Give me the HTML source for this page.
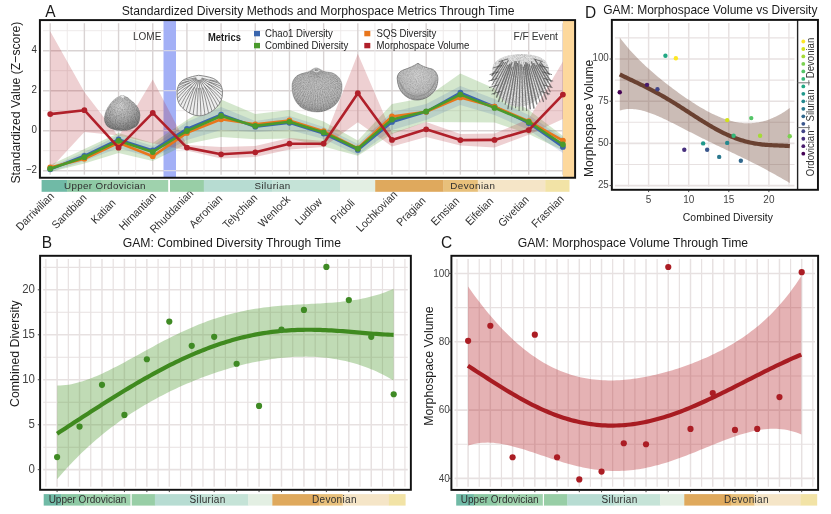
<!DOCTYPE html><html><head><meta charset="utf-8"><style>html,body{margin:0;padding:0;background:#fff;}svg{display:block;}text{font-family:'Liberation Sans', Arial, sans-serif;}</style></head><body>
<svg width="831" height="514" viewBox="0 0 831 514">
<rect width="831" height="514" fill="#fff"/>
<clipPath id="clipA"><rect x="39.9" y="20.1" width="535.2" height="157.65"/></clipPath>
<line x1="43.0" x2="572.0" y1="170.70" y2="170.70" stroke="#d9d3d3" stroke-width="1.4"/>
<line x1="43.0" x2="572.0" y1="150.70" y2="150.70" stroke="#ece8e8" stroke-width="0.9"/>
<line x1="43.0" x2="572.0" y1="130.70" y2="130.70" stroke="#d9d3d3" stroke-width="1.4"/>
<line x1="43.0" x2="572.0" y1="110.70" y2="110.70" stroke="#ece8e8" stroke-width="0.9"/>
<line x1="43.0" x2="572.0" y1="90.70" y2="90.70" stroke="#d9d3d3" stroke-width="1.4"/>
<line x1="43.0" x2="572.0" y1="70.70" y2="70.70" stroke="#ece8e8" stroke-width="0.9"/>
<line x1="43.0" x2="572.0" y1="50.70" y2="50.70" stroke="#d9d3d3" stroke-width="1.4"/>
<line x1="43.0" x2="572.0" y1="30.70" y2="30.70" stroke="#ece8e8" stroke-width="0.9"/>
<line x1="50.20" x2="50.20" y1="23.200000000000003" y2="174.65" stroke="#d9d3d3" stroke-width="1.4"/>
<line x1="67.29" x2="67.29" y1="23.200000000000003" y2="174.65" stroke="#ece8e8" stroke-width="0.9"/>
<line x1="84.38" x2="84.38" y1="23.200000000000003" y2="174.65" stroke="#d9d3d3" stroke-width="1.4"/>
<line x1="101.47" x2="101.47" y1="23.200000000000003" y2="174.65" stroke="#ece8e8" stroke-width="0.9"/>
<line x1="118.56" x2="118.56" y1="23.200000000000003" y2="174.65" stroke="#d9d3d3" stroke-width="1.4"/>
<line x1="135.65" x2="135.65" y1="23.200000000000003" y2="174.65" stroke="#ece8e8" stroke-width="0.9"/>
<line x1="152.74" x2="152.74" y1="23.200000000000003" y2="174.65" stroke="#d9d3d3" stroke-width="1.4"/>
<line x1="169.83" x2="169.83" y1="23.200000000000003" y2="174.65" stroke="#ece8e8" stroke-width="0.9"/>
<line x1="186.92" x2="186.92" y1="23.200000000000003" y2="174.65" stroke="#d9d3d3" stroke-width="1.4"/>
<line x1="204.01" x2="204.01" y1="23.200000000000003" y2="174.65" stroke="#ece8e8" stroke-width="0.9"/>
<line x1="221.10" x2="221.10" y1="23.200000000000003" y2="174.65" stroke="#d9d3d3" stroke-width="1.4"/>
<line x1="238.19" x2="238.19" y1="23.200000000000003" y2="174.65" stroke="#ece8e8" stroke-width="0.9"/>
<line x1="255.28" x2="255.28" y1="23.200000000000003" y2="174.65" stroke="#d9d3d3" stroke-width="1.4"/>
<line x1="272.37" x2="272.37" y1="23.200000000000003" y2="174.65" stroke="#ece8e8" stroke-width="0.9"/>
<line x1="289.46" x2="289.46" y1="23.200000000000003" y2="174.65" stroke="#d9d3d3" stroke-width="1.4"/>
<line x1="306.55" x2="306.55" y1="23.200000000000003" y2="174.65" stroke="#ece8e8" stroke-width="0.9"/>
<line x1="323.64" x2="323.64" y1="23.200000000000003" y2="174.65" stroke="#d9d3d3" stroke-width="1.4"/>
<line x1="340.73" x2="340.73" y1="23.200000000000003" y2="174.65" stroke="#ece8e8" stroke-width="0.9"/>
<line x1="357.82" x2="357.82" y1="23.200000000000003" y2="174.65" stroke="#d9d3d3" stroke-width="1.4"/>
<line x1="374.91" x2="374.91" y1="23.200000000000003" y2="174.65" stroke="#ece8e8" stroke-width="0.9"/>
<line x1="392.00" x2="392.00" y1="23.200000000000003" y2="174.65" stroke="#d9d3d3" stroke-width="1.4"/>
<line x1="409.09" x2="409.09" y1="23.200000000000003" y2="174.65" stroke="#ece8e8" stroke-width="0.9"/>
<line x1="426.18" x2="426.18" y1="23.200000000000003" y2="174.65" stroke="#d9d3d3" stroke-width="1.4"/>
<line x1="443.27" x2="443.27" y1="23.200000000000003" y2="174.65" stroke="#ece8e8" stroke-width="0.9"/>
<line x1="460.36" x2="460.36" y1="23.200000000000003" y2="174.65" stroke="#d9d3d3" stroke-width="1.4"/>
<line x1="477.45" x2="477.45" y1="23.200000000000003" y2="174.65" stroke="#ece8e8" stroke-width="0.9"/>
<line x1="494.54" x2="494.54" y1="23.200000000000003" y2="174.65" stroke="#d9d3d3" stroke-width="1.4"/>
<line x1="511.63" x2="511.63" y1="23.200000000000003" y2="174.65" stroke="#ece8e8" stroke-width="0.9"/>
<line x1="528.72" x2="528.72" y1="23.200000000000003" y2="174.65" stroke="#d9d3d3" stroke-width="1.4"/>
<line x1="545.81" x2="545.81" y1="23.200000000000003" y2="174.65" stroke="#ece8e8" stroke-width="0.9"/>
<line x1="562.90" x2="562.90" y1="23.200000000000003" y2="174.65" stroke="#d9d3d3" stroke-width="1.4"/>
<g clip-path="url(#clipA)">
<rect x="163.5" y="20.1" width="12.5" height="157.65" fill="#a3b0f6"/>
<line x1="163.5" x2="176" y1="170.70" y2="170.70" stroke="#d6d6e6" stroke-width="1.2"/>
<line x1="163.5" x2="176" y1="130.70" y2="130.70" stroke="#d6d6e6" stroke-width="1.2"/>
<line x1="163.5" x2="176" y1="90.70" y2="90.70" stroke="#d6d6e6" stroke-width="1.2"/>
<line x1="163.5" x2="176" y1="50.70" y2="50.70" stroke="#d6d6e6" stroke-width="1.2"/>
<rect x="562.9" y="20.1" width="13" height="157.65" fill="#fdd89c"/>
<polygon points="50.20,165.00 84.38,149.00 118.56,132.90 152.74,143.00 186.92,119.90 221.10,99.40 255.28,114.00 289.46,110.00 323.64,121.50 357.82,140.50 392.00,104.00 426.18,97.40 460.36,73.50 494.54,88.50 528.72,110.00 562.90,136.00 562.90,150.50 528.72,134.00 494.54,122.50 460.36,122.30 426.18,121.90 392.00,134.00 357.82,155.70 323.64,146.50 289.46,138.50 255.28,139.30 221.10,137.00 186.92,144.00 152.74,161.00 118.56,153.00 84.38,163.50 50.20,172.00" fill="#4a9a2c" fill-opacity="0.24"/>
<polygon points="50.20,167.00 84.38,152.00 118.56,135.00 152.74,146.00 186.92,122.00 221.10,107.00 255.28,121.00 289.46,116.00 323.64,127.00 357.82,144.00 392.00,112.00 426.18,104.00 460.36,86.00 494.54,99.00 528.72,115.00 562.90,138.00 562.90,153.00 528.72,130.00 494.54,115.00 460.36,105.00 426.18,120.00 392.00,130.00 357.82,155.00 323.64,139.00 289.46,130.00 255.28,132.00 221.10,130.00 186.92,140.00 152.74,158.00 118.56,148.00 84.38,161.00 50.20,172.00" fill="#3a65ad" fill-opacity="0.17"/>
<polygon points="50.20,31.20 84.38,92.00 118.56,136.50 152.74,79.50 186.92,145.00 221.10,147.00 255.28,146.00 289.46,138.00 323.64,141.00 357.82,53.80 392.00,133.00 426.18,122.00 460.36,134.00 494.54,133.60 528.72,119.00 562.90,61.50 562.90,119.00 528.72,134.70 494.54,147.60 460.36,145.50 426.18,137.00 392.00,146.50 357.82,122.20 323.64,147.00 289.46,149.50 255.28,157.00 221.10,158.50 186.92,150.50 152.74,143.20 118.56,135.50 84.38,132.00 50.20,169.00" fill="#b0202a" fill-opacity="0.21"/>
</g>
<defs>
<radialGradient id="g1" cx="0.45" cy="0.3" r="0.8"><stop offset="0" stop-color="#d2d2d2"/><stop offset="0.5" stop-color="#a8a8a8"/><stop offset="1" stop-color="#6a6a6a"/></radialGradient>
<radialGradient id="g3" cx="0.5" cy="0.3" r="0.75"><stop offset="0" stop-color="#d4d4d4"/><stop offset="0.7" stop-color="#b6b6b6"/><stop offset="1" stop-color="#8e8e8e"/></radialGradient>
<radialGradient id="g4" cx="0.5" cy="0.35" r="0.7"><stop offset="0" stop-color="#d0d0d0"/><stop offset="0.75" stop-color="#b8b8b8"/><stop offset="1" stop-color="#858585"/></radialGradient>
<radialGradient id="g5" cx="0.5" cy="0.4" r="0.6"><stop offset="0" stop-color="#e4e4e4"/><stop offset="1" stop-color="#b8b8b8"/></radialGradient>
<filter id="nz" x="0" y="0" width="1" height="1" color-interpolation-filters="sRGB"><feTurbulence type="fractalNoise" baseFrequency="0.85" numOctaves="2" seed="4"/><feColorMatrix type="matrix" values="0 0 0 0 0  0 0 0 0 0  0 0 0 0 0  1.6 0 0 0 -0.55"/></filter>
</defs>
<clipPath id="cf1"><path d="M122.4,95.3 C126,95.5 130,99 133.9,102.5 C138,106.5 140.4,110.5 140.3,115 C140.2,120 139,123.5 136.8,126 C132,130 127,131 122.2,130.8 C117,131 111,129.5 107.6,126.8 C104.8,124 104,121 104.2,118 C104.5,113 106.5,108 109.6,104.5 C113,100 118,95.5 122.4,95.3 Z"/></clipPath>
<path d="M122.4,95.3 C126,95.5 130,99 133.9,102.5 C138,106.5 140.4,110.5 140.3,115 C140.2,120 139,123.5 136.8,126 C132,130 127,131 122.2,130.8 C117,131 111,129.5 107.6,126.8 C104.8,124 104,121 104.2,118 C104.5,113 106.5,108 109.6,104.5 C113,100 118,95.5 122.4,95.3 Z" fill="url(#g1)"/>
<rect x="100" y="92" width="45" height="42" filter="url(#nz)" clip-path="url(#cf1)" opacity="0.28"/>
<path d="M120.5,96.5 L122.4,95.3 L124.5,96.6 L123,98.5 Z" fill="#e8e8e8"/>
<clipPath id="cf2"><path d="M198.6,75.3 C203,75.8 209,76.8 213.2,78.4 C219,81 222.5,86 222.5,92.4 C222.5,99 220.5,103.5 216.7,107.2 C212,112 205.5,115.8 199.2,115.8 C193,115.8 186.5,112 181.7,107.2 C178,103.5 177,98.5 177,93 C177,86.5 180,81 185.2,79 C190,77 195,75.8 198.6,75.3 Z"/></clipPath>
<path d="M198.6,75.3 C203,75.8 209,76.8 213.2,78.4 C219,81 222.5,86 222.5,92.4 C222.5,99 220.5,103.5 216.7,107.2 C212,112 205.5,115.8 199.2,115.8 C193,115.8 186.5,112 181.7,107.2 C178,103.5 177,98.5 177,93 C177,86.5 180,81 185.2,79 C190,77 195,75.8 198.6,75.3 Z" fill="#eeeeee"/>
<g clip-path="url(#cf2)" fill="none" stroke="#404040" stroke-width="0.7" opacity="0.8">
<path d="M196.10,77.78 Q170.02,82.71 152.64,89.42"/>
<path d="M188.70,80.86 Q170.91,84.75 154.06,93.85"/>
<path d="M196.31,78.32 Q172.06,86.72 155.90,98.13"/>
<path d="M189.64,82.77 Q173.47,88.59 158.15,102.20"/>
<path d="M196.61,78.81 Q175.11,90.36 160.78,106.04"/>
<path d="M190.93,84.47 Q176.98,92.00 163.77,109.60"/>
<path d="M197.01,79.24 Q179.06,93.49 167.09,112.86"/>
<path d="M192.52,85.89 Q181.32,94.84 170.71,115.78"/>
<path d="M197.47,79.58 Q183.75,96.01 174.60,118.33"/>
<path d="M194.35,86.97 Q186.32,97.01 178.71,120.50"/>
<path d="M198.00,79.83 Q189.01,97.82 183.02,122.26"/>
<path d="M196.36,87.68 Q191.80,98.43 187.48,123.60"/>
<path d="M198.57,79.97 Q194.65,98.85 192.04,124.49"/>
<path d="M198.47,87.99 Q197.55,99.05 196.67,124.94"/>
<path d="M199.15,80.00 Q200.45,99.05 201.33,124.94"/>
<path d="M200.59,87.88 Q203.35,98.85 205.96,124.49"/>
<path d="M199.72,79.91 Q206.20,98.43 210.52,123.60"/>
<path d="M202.66,87.37 Q208.99,97.82 214.98,122.26"/>
<path d="M200.27,79.72 Q211.68,97.01 219.29,120.50"/>
<path d="M204.59,86.47 Q214.25,96.01 223.40,118.33"/>
<path d="M200.77,79.42 Q216.68,94.84 227.29,115.78"/>
<path d="M206.31,85.22 Q218.94,93.49 230.91,112.86"/>
<path d="M201.20,79.04 Q221.02,92.00 234.23,109.60"/>
<path d="M207.76,83.65 Q222.89,90.36 237.22,106.04"/>
<path d="M201.55,78.57 Q224.53,88.59 239.85,102.20"/>
<path d="M208.88,81.84 Q225.94,86.72 242.10,98.13"/>
<path d="M201.81,78.05 Q227.09,84.75 243.94,93.85"/>
<path d="M209.63,79.85 Q227.98,82.71 245.36,89.42"/>
</g>
<path d="M198.6,75.3 C203,75.8 209,76.8 213.2,78.4 C219,81 222.5,86 222.5,92.4 C222.5,99 220.5,103.5 216.7,107.2 C212,112 205.5,115.8 199.2,115.8 C193,115.8 186.5,112 181.7,107.2 C178,103.5 177,98.5 177,93 C177,86.5 180,81 185.2,79 C190,77 195,75.8 198.6,75.3 Z" fill="none" stroke="#7a7a7a" stroke-width="0.9"/>
<clipPath id="cf3"><path d="M316.1,67.9 C319,68 321.5,70.5 324,71.5 C327,72.3 329.5,72.2 331.8,72.7 C338,75 342,80 342,86.3 C342,95 339,101.5 334.5,105.4 C329,110 323,111.9 316.8,111.9 C310.5,111.9 304.5,110 300.4,106.7 C295,102 292,95 292,86.3 C292,80 296,75.5 300.4,74.1 C303,73 306,72.8 308.5,71.8 C311,70.8 313.5,68 316.1,67.9 Z"/></clipPath>
<path d="M316.1,67.9 C319,68 321.5,70.5 324,71.5 C327,72.3 329.5,72.2 331.8,72.7 C338,75 342,80 342,86.3 C342,95 339,101.5 334.5,105.4 C329,110 323,111.9 316.8,111.9 C310.5,111.9 304.5,110 300.4,106.7 C295,102 292,95 292,86.3 C292,80 296,75.5 300.4,74.1 C303,73 306,72.8 308.5,71.8 C311,70.8 313.5,68 316.1,67.9 Z" fill="url(#g3)" stroke="#7c7c7c" stroke-width="0.5"/>
<g clip-path="url(#cf3)" stroke="#505050" stroke-width="0.5" opacity="0.35">
<line x1="316.5" y1="70" x2="267.59" y2="80.40"/>
<line x1="316.5" y1="70" x2="268.55" y2="84.16"/>
<line x1="316.5" y1="70" x2="269.79" y2="87.85"/>
<line x1="316.5" y1="70" x2="271.32" y2="91.42"/>
<line x1="316.5" y1="70" x2="273.12" y2="94.87"/>
<line x1="316.5" y1="70" x2="275.19" y2="98.17"/>
<line x1="316.5" y1="70" x2="277.50" y2="101.29"/>
<line x1="316.5" y1="70" x2="280.05" y2="104.23"/>
<line x1="316.5" y1="70" x2="282.82" y2="106.96"/>
<line x1="316.5" y1="70" x2="285.80" y2="109.46"/>
<line x1="316.5" y1="70" x2="288.96" y2="111.73"/>
<line x1="316.5" y1="70" x2="292.28" y2="113.74"/>
<line x1="316.5" y1="70" x2="295.75" y2="115.49"/>
<line x1="316.5" y1="70" x2="299.35" y2="116.97"/>
<line x1="316.5" y1="70" x2="303.05" y2="118.16"/>
<line x1="316.5" y1="70" x2="306.84" y2="119.06"/>
<line x1="316.5" y1="70" x2="310.68" y2="119.66"/>
<line x1="316.5" y1="70" x2="314.56" y2="119.96"/>
<line x1="316.5" y1="70" x2="318.44" y2="119.96"/>
<line x1="316.5" y1="70" x2="322.32" y2="119.66"/>
<line x1="316.5" y1="70" x2="326.16" y2="119.06"/>
<line x1="316.5" y1="70" x2="329.95" y2="118.16"/>
<line x1="316.5" y1="70" x2="333.65" y2="116.97"/>
<line x1="316.5" y1="70" x2="337.25" y2="115.49"/>
<line x1="316.5" y1="70" x2="340.72" y2="113.74"/>
<line x1="316.5" y1="70" x2="344.04" y2="111.73"/>
<line x1="316.5" y1="70" x2="347.20" y2="109.46"/>
<line x1="316.5" y1="70" x2="350.18" y2="106.96"/>
<line x1="316.5" y1="70" x2="352.95" y2="104.23"/>
<line x1="316.5" y1="70" x2="355.50" y2="101.29"/>
<line x1="316.5" y1="70" x2="357.81" y2="98.17"/>
<line x1="316.5" y1="70" x2="359.88" y2="94.87"/>
<line x1="316.5" y1="70" x2="361.68" y2="91.42"/>
<line x1="316.5" y1="70" x2="363.21" y2="87.85"/>
<line x1="316.5" y1="70" x2="364.45" y2="84.16"/>
<line x1="316.5" y1="70" x2="365.41" y2="80.40"/>
</g>
<rect x="288" y="64" width="58" height="52" filter="url(#nz)" clip-path="url(#cf3)" opacity="0.24"/>
<path d="M313.5,70 C315,72.5 318,72.5 319.5,70" fill="none" stroke="#ddd" stroke-width="1.2"/>
<clipPath id="cf4"><path d="M418,63.2 C421,65.5 425,67.5 432,69 C436,71 438,75 437.9,79.5 C437.7,85 436,89.5 433.2,92.4 C429,97 423,100 416.8,100 C411,100 406,97 402.8,93.5 C399.5,90 397.5,85 397.2,78.3 C397.2,74.5 399.5,71.5 402.8,70.2 C409,68 414,66 418,63.2 Z"/></clipPath>
<path d="M418,63.2 C421,65.5 425,67.5 432,69 C436,71 438,75 437.9,79.5 C437.7,85 436,89.5 433.2,92.4 C429,97 423,100 416.8,100 C411,100 406,97 402.8,93.5 C399.5,90 397.5,85 397.2,78.3 C397.2,74.5 399.5,71.5 402.8,70.2 C409,68 414,66 418,63.2 Z" fill="url(#g4)" stroke="#777" stroke-width="0.8"/>
<rect x="394" y="60" width="48" height="44" filter="url(#nz)" clip-path="url(#cf4)" opacity="0.2"/>
<path d="M399,80 C401,90 408,96.5 417,97 C426,96.5 433,90 436,80" fill="none" stroke="#909090" stroke-width="0.7"/>
<path d="M398.5,76.5 C400,87 408,94 417,94.5 C426,94 434,87 436.5,76.5" fill="none" stroke="#a0a0a0" stroke-width="0.6"/>
<path d="M400.5,83 C403,91 409,95.5 417,96 C425,95.5 431.5,91 434.5,83" fill="none" stroke="#8a8a8a" stroke-width="0.8"/>
<path d="M402,76 C405,72 412,70 418,66.5 C424,70 431,72 434,76" fill="none" stroke="#b0b0b0" stroke-width="0.6"/>
<clipPath id="cf5"><path d="M521.6,54 C532,54 541,56.5 545.5,61 C549.5,66 550,74 548.5,81 C546,90 540,98 532,103 C526,106.5 519,107.5 513,106 C505,103.5 498,96 494.5,87.5 C491.5,80 491,71 493.5,64.5 C498,57.5 509,54 521.6,54 Z"/></clipPath>
<path d="M521.6,54 C532,54 541,56.5 545.5,61 C549.5,66 550,74 548.5,81 C546,90 540,98 532,103 C526,106.5 519,107.5 513,106 C505,103.5 498,96 494.5,87.5 C491.5,80 491,71 493.5,64.5 C498,57.5 509,54 521.6,54 Z" fill="#e2e2e2"/>
<rect x="488" y="50" width="66" height="62" filter="url(#nz)" clip-path="url(#cf5)" opacity="0.25"/>
<g fill="none" stroke-linecap="round">
<line x1="502.38" y1="61.28" x2="491.92" y2="75.49" stroke="#333" stroke-width="1.39" opacity="0.6"/>
<line x1="503.67" y1="62.22" x2="491.62" y2="80.46" stroke="#333" stroke-width="1.22" opacity="0.6"/>
<line x1="505.49" y1="62.28" x2="492.04" y2="85.07" stroke="#333" stroke-width="1.02" opacity="0.6"/>
<line x1="508.32" y1="60.22" x2="492.36" y2="90.69" stroke="#333" stroke-width="1.05" opacity="0.6"/>
<line x1="507.56" y1="65.19" x2="494.04" y2="94.54" stroke="#333" stroke-width="1.07" opacity="0.6"/>
<line x1="509.64" y1="64.38" x2="496.60" y2="96.94" stroke="#333" stroke-width="1.57" opacity="0.6"/>
<line x1="511.75" y1="63.01" x2="498.62" y2="101.33" stroke="#333" stroke-width="1.59" opacity="0.6"/>
<line x1="512.06" y1="67.17" x2="502.14" y2="101.79" stroke="#333" stroke-width="1.17" opacity="0.6"/>
<line x1="515.11" y1="61.31" x2="505.13" y2="104.26" stroke="#333" stroke-width="1.19" opacity="0.6"/>
<line x1="516.35" y1="61.87" x2="507.96" y2="108.60" stroke="#333" stroke-width="1.35" opacity="0.6"/>
<line x1="517.46" y1="63.75" x2="511.66" y2="109.21" stroke="#333" stroke-width="1.33" opacity="0.6"/>
<line x1="519.09" y1="61.04" x2="515.52" y2="107.79" stroke="#333" stroke-width="1.12" opacity="0.6"/>
<line x1="520.27" y1="64.58" x2="519.11" y2="110.45" stroke="#333" stroke-width="1.19" opacity="0.6"/>
<line x1="521.73" y1="64.82" x2="522.88" y2="110.07" stroke="#333" stroke-width="1.18" opacity="0.6"/>
<line x1="523.37" y1="67.00" x2="526.68" y2="110.46" stroke="#333" stroke-width="1.15" opacity="0.6"/>
<line x1="524.72" y1="65.12" x2="530.28" y2="108.71" stroke="#333" stroke-width="1.53" opacity="0.6"/>
<line x1="525.81" y1="62.79" x2="533.93" y2="108.02" stroke="#333" stroke-width="1.59" opacity="0.6"/>
<line x1="527.48" y1="63.87" x2="536.79" y2="103.91" stroke="#333" stroke-width="1.45" opacity="0.6"/>
<line x1="529.04" y1="64.05" x2="539.91" y2="101.95" stroke="#333" stroke-width="1.02" opacity="0.6"/>
<line x1="531.28" y1="66.01" x2="543.42" y2="101.44" stroke="#333" stroke-width="1.34" opacity="0.6"/>
<line x1="531.44" y1="62.08" x2="546.27" y2="99.13" stroke="#333" stroke-width="1.42" opacity="0.6"/>
<line x1="533.72" y1="63.63" x2="548.03" y2="94.70" stroke="#333" stroke-width="1.27" opacity="0.6"/>
<line x1="536.28" y1="65.18" x2="550.16" y2="91.69" stroke="#333" stroke-width="1.28" opacity="0.6"/>
<line x1="535.28" y1="60.19" x2="550.94" y2="86.73" stroke="#333" stroke-width="1.42" opacity="0.6"/>
<line x1="539.55" y1="64.07" x2="551.09" y2="81.54" stroke="#333" stroke-width="1.49" opacity="0.6"/>
<line x1="540.29" y1="62.20" x2="549.25" y2="74.36" stroke="#333" stroke-width="1.40" opacity="0.6"/>
<line x1="507.74" y1="59.00" x2="499.24" y2="61.50" stroke="#3a3a3a" stroke-width="0.9" opacity="0.7"/>
<line x1="501.60" y1="65.50" x2="493.10" y2="68.00" stroke="#3a3a3a" stroke-width="0.9" opacity="0.7"/>
<line x1="498.47" y1="72.00" x2="489.97" y2="74.50" stroke="#3a3a3a" stroke-width="0.9" opacity="0.7"/>
<line x1="497.32" y1="78.50" x2="488.82" y2="81.00" stroke="#3a3a3a" stroke-width="0.9" opacity="0.7"/>
<line x1="497.92" y1="85.00" x2="489.42" y2="87.50" stroke="#3a3a3a" stroke-width="0.9" opacity="0.7"/>
<line x1="500.39" y1="91.50" x2="491.89" y2="94.00" stroke="#3a3a3a" stroke-width="0.9" opacity="0.7"/>
<line x1="533.86" y1="59.00" x2="542.36" y2="61.50" stroke="#3a3a3a" stroke-width="0.9" opacity="0.7"/>
<line x1="540.00" y1="65.50" x2="548.50" y2="68.00" stroke="#3a3a3a" stroke-width="0.9" opacity="0.7"/>
<line x1="543.13" y1="72.00" x2="551.63" y2="74.50" stroke="#3a3a3a" stroke-width="0.9" opacity="0.7"/>
<line x1="544.28" y1="78.50" x2="552.78" y2="81.00" stroke="#3a3a3a" stroke-width="0.9" opacity="0.7"/>
<line x1="543.68" y1="85.00" x2="552.18" y2="87.50" stroke="#3a3a3a" stroke-width="0.9" opacity="0.7"/>
<line x1="541.21" y1="91.50" x2="549.71" y2="94.00" stroke="#3a3a3a" stroke-width="0.9" opacity="0.7"/>
</g>
<polyline points="50.20,169.30 84.38,155.80 118.56,139.50 152.74,150.40 186.92,128.90 221.10,114.60 255.28,126.70 289.46,122.80 323.64,133.50 357.82,149.90 392.00,121.90 426.18,111.80 460.36,92.70 494.54,106.70 528.72,123.00 562.90,146.90" fill="none" stroke="#3a65ad" stroke-width="2.6" stroke-linejoin="round"/>
<circle cx="50.20" cy="169.30" r="2.9" fill="#3a65ad"/>
<circle cx="84.38" cy="155.80" r="2.9" fill="#3a65ad"/>
<circle cx="118.56" cy="139.50" r="2.9" fill="#3a65ad"/>
<circle cx="152.74" cy="150.40" r="2.9" fill="#3a65ad"/>
<circle cx="186.92" cy="128.90" r="2.9" fill="#3a65ad"/>
<circle cx="221.10" cy="114.60" r="2.9" fill="#3a65ad"/>
<circle cx="255.28" cy="126.70" r="2.9" fill="#3a65ad"/>
<circle cx="289.46" cy="122.80" r="2.9" fill="#3a65ad"/>
<circle cx="323.64" cy="133.50" r="2.9" fill="#3a65ad"/>
<circle cx="357.82" cy="149.90" r="2.9" fill="#3a65ad"/>
<circle cx="392.00" cy="121.90" r="2.9" fill="#3a65ad"/>
<circle cx="426.18" cy="111.80" r="2.9" fill="#3a65ad"/>
<circle cx="460.36" cy="92.70" r="2.9" fill="#3a65ad"/>
<circle cx="494.54" cy="106.70" r="2.9" fill="#3a65ad"/>
<circle cx="528.72" cy="123.00" r="2.9" fill="#3a65ad"/>
<circle cx="562.90" cy="146.90" r="2.9" fill="#3a65ad"/>
<polyline points="50.20,167.40 84.38,158.70 118.56,142.70 152.74,156.20 186.92,132.90 221.10,119.30 255.28,124.30 289.46,120.50 323.64,131.20 357.82,148.30 392.00,116.50 426.18,111.80 460.36,97.40 494.54,106.70 528.72,121.20 562.90,140.60" fill="none" stroke="#e8761c" stroke-width="2.6" stroke-linejoin="round"/>
<circle cx="50.20" cy="167.40" r="2.9" fill="#e8761c"/>
<circle cx="84.38" cy="158.70" r="2.9" fill="#e8761c"/>
<circle cx="118.56" cy="142.70" r="2.9" fill="#e8761c"/>
<circle cx="152.74" cy="156.20" r="2.9" fill="#e8761c"/>
<circle cx="186.92" cy="132.90" r="2.9" fill="#e8761c"/>
<circle cx="221.10" cy="119.30" r="2.9" fill="#e8761c"/>
<circle cx="255.28" cy="124.30" r="2.9" fill="#e8761c"/>
<circle cx="289.46" cy="120.50" r="2.9" fill="#e8761c"/>
<circle cx="323.64" cy="131.20" r="2.9" fill="#e8761c"/>
<circle cx="357.82" cy="148.30" r="2.9" fill="#e8761c"/>
<circle cx="392.00" cy="116.50" r="2.9" fill="#e8761c"/>
<circle cx="426.18" cy="111.80" r="2.9" fill="#e8761c"/>
<circle cx="460.36" cy="97.40" r="2.9" fill="#e8761c"/>
<circle cx="494.54" cy="106.70" r="2.9" fill="#e8761c"/>
<circle cx="528.72" cy="121.20" r="2.9" fill="#e8761c"/>
<circle cx="562.90" cy="140.60" r="2.9" fill="#e8761c"/>
<polyline points="50.20,168.70 84.38,157.20 118.56,140.80 152.74,152.00 186.92,131.00 221.10,116.00 255.28,125.90 289.46,121.80 323.64,132.40 357.82,148.70 392.00,119.50 426.18,111.40 460.36,94.60 494.54,107.90 528.72,121.90 562.90,144.50" fill="none" stroke="#4a9a2c" stroke-width="2.6" stroke-linejoin="round"/>
<circle cx="50.20" cy="168.70" r="2.9" fill="#4a9a2c"/>
<circle cx="84.38" cy="157.20" r="2.9" fill="#4a9a2c"/>
<circle cx="118.56" cy="140.80" r="2.9" fill="#4a9a2c"/>
<circle cx="152.74" cy="152.00" r="2.9" fill="#4a9a2c"/>
<circle cx="186.92" cy="131.00" r="2.9" fill="#4a9a2c"/>
<circle cx="221.10" cy="116.00" r="2.9" fill="#4a9a2c"/>
<circle cx="255.28" cy="125.90" r="2.9" fill="#4a9a2c"/>
<circle cx="289.46" cy="121.80" r="2.9" fill="#4a9a2c"/>
<circle cx="323.64" cy="132.40" r="2.9" fill="#4a9a2c"/>
<circle cx="357.82" cy="148.70" r="2.9" fill="#4a9a2c"/>
<circle cx="392.00" cy="119.50" r="2.9" fill="#4a9a2c"/>
<circle cx="426.18" cy="111.40" r="2.9" fill="#4a9a2c"/>
<circle cx="460.36" cy="94.60" r="2.9" fill="#4a9a2c"/>
<circle cx="494.54" cy="107.90" r="2.9" fill="#4a9a2c"/>
<circle cx="528.72" cy="121.90" r="2.9" fill="#4a9a2c"/>
<circle cx="562.90" cy="144.50" r="2.9" fill="#4a9a2c"/>
<polyline points="50.20,114.10 84.38,110.20 118.56,147.70 152.74,112.90 186.92,147.60 221.10,154.30 255.28,152.30 289.46,143.70 323.64,143.60 357.82,93.20 392.00,139.90 426.18,129.30 460.36,140.10 494.54,139.90 528.72,130.10 562.90,94.60" fill="none" stroke="#b0202a" stroke-width="2.6" stroke-linejoin="round"/>
<circle cx="50.20" cy="114.10" r="2.9" fill="#b0202a"/>
<circle cx="84.38" cy="110.20" r="2.9" fill="#b0202a"/>
<circle cx="118.56" cy="147.70" r="2.9" fill="#b0202a"/>
<circle cx="152.74" cy="112.90" r="2.9" fill="#b0202a"/>
<circle cx="186.92" cy="147.60" r="2.9" fill="#b0202a"/>
<circle cx="221.10" cy="154.30" r="2.9" fill="#b0202a"/>
<circle cx="255.28" cy="152.30" r="2.9" fill="#b0202a"/>
<circle cx="289.46" cy="143.70" r="2.9" fill="#b0202a"/>
<circle cx="323.64" cy="143.60" r="2.9" fill="#b0202a"/>
<circle cx="357.82" cy="93.20" r="2.9" fill="#b0202a"/>
<circle cx="392.00" cy="139.90" r="2.9" fill="#b0202a"/>
<circle cx="426.18" cy="129.30" r="2.9" fill="#b0202a"/>
<circle cx="460.36" cy="140.10" r="2.9" fill="#b0202a"/>
<circle cx="494.54" cy="139.90" r="2.9" fill="#b0202a"/>
<circle cx="528.72" cy="130.10" r="2.9" fill="#b0202a"/>
<circle cx="562.90" cy="94.60" r="2.9" fill="#b0202a"/>
<rect x="39.9" y="20.1" width="535.2" height="157.65" fill="none" stroke="#111" stroke-width="1.95"/>
<text transform="translate(45.20,16.80) scale(1,1.08)" font-size="15.5" text-anchor="start" fill="#1a1a1a" >A</text>
<text transform="translate(121.70,14.60) scale(1,1.08)" font-size="12.15" text-anchor="start" fill="#1a1a1a" textLength="392.9" lengthAdjust="spacingAndGlyphs">Standardized Diversity Methods and Morphospace Metrics Through Time</text>
<text transform="translate(133.00,39.90) scale(1,1.08)" font-size="10" text-anchor="start" fill="#333" >LOME</text>
<text transform="translate(513.40,40.40) scale(1,1.08)" font-size="10.3" text-anchor="start" fill="#333" >F/F Event</text>
<text transform="translate(208.00,41.00) scale(1,1.08)" font-size="9.4" text-anchor="start" fill="#1a1a1a" font-weight="bold">Metrics</text>
<rect x="254" y="30.9" width="6" height="5.4" fill="#3a65ad"/>
<rect x="254" y="42.9" width="6" height="5.4" fill="#4a9a2c"/>
<rect x="364.3" y="30.9" width="6" height="5.4" fill="#e8761c"/>
<rect x="364.3" y="42.9" width="6" height="5.4" fill="#b0202a"/>
<text transform="translate(265.10,37.40) scale(1,1.08)" font-size="9.6" text-anchor="start" fill="#222" >Chao1 Diversity</text>
<text transform="translate(265.10,49.00) scale(1,1.08)" font-size="9.6" text-anchor="start" fill="#222" >Combined Diversity</text>
<text transform="translate(376.60,37.40) scale(1,1.08)" font-size="9.6" text-anchor="start" fill="#222" >SQS Diversity</text>
<text transform="translate(376.60,49.00) scale(1,1.08)" font-size="9.6" text-anchor="start" fill="#222" >Morphospace Volume</text>
<text transform="translate(37.00,173.30) scale(1,1.08)" font-size="9.8" text-anchor="end" fill="#333" >−2</text>
<text transform="translate(37.00,133.30) scale(1,1.08)" font-size="9.8" text-anchor="end" fill="#333" >0</text>
<text transform="translate(37.00,93.30) scale(1,1.08)" font-size="9.8" text-anchor="end" fill="#333" >2</text>
<text transform="translate(37.00,53.30) scale(1,1.08)" font-size="9.8" text-anchor="end" fill="#333" >4</text>
<text transform="translate(19.6,102.6) rotate(-90) scale(1,1.08)" font-size="12.25" text-anchor="middle" fill="#1a1a1a">Standardized Value (Z−score)</text>
<text transform="translate(37.60,214.00) rotate(-45) scale(1,1.08)" font-size="10.4" text-anchor="middle" fill="#333">Darriwilian</text>
<text transform="translate(71.78,214.00) rotate(-45) scale(1,1.08)" font-size="10.4" text-anchor="middle" fill="#333">Sandbian</text>
<text transform="translate(105.96,214.00) rotate(-45) scale(1,1.08)" font-size="10.4" text-anchor="middle" fill="#333">Katian</text>
<text transform="translate(140.14,214.00) rotate(-45) scale(1,1.08)" font-size="10.4" text-anchor="middle" fill="#333">Hirnantian</text>
<text transform="translate(174.32,214.00) rotate(-45) scale(1,1.08)" font-size="10.4" text-anchor="middle" fill="#333">Rhuddanian</text>
<text transform="translate(208.50,214.00) rotate(-45) scale(1,1.08)" font-size="10.4" text-anchor="middle" fill="#333">Aeronian</text>
<text transform="translate(242.68,214.00) rotate(-45) scale(1,1.08)" font-size="10.4" text-anchor="middle" fill="#333">Telychian</text>
<text transform="translate(276.86,214.00) rotate(-45) scale(1,1.08)" font-size="10.4" text-anchor="middle" fill="#333">Wenlock</text>
<text transform="translate(311.04,214.00) rotate(-45) scale(1,1.08)" font-size="10.4" text-anchor="middle" fill="#333">Ludlow</text>
<text transform="translate(345.22,214.00) rotate(-45) scale(1,1.08)" font-size="10.4" text-anchor="middle" fill="#333">Pridoli</text>
<text transform="translate(379.40,214.00) rotate(-45) scale(1,1.08)" font-size="10.4" text-anchor="middle" fill="#333">Lochkovian</text>
<text transform="translate(413.58,214.00) rotate(-45) scale(1,1.08)" font-size="10.4" text-anchor="middle" fill="#333">Pragian</text>
<text transform="translate(447.76,214.00) rotate(-45) scale(1,1.08)" font-size="10.4" text-anchor="middle" fill="#333">Emsian</text>
<text transform="translate(481.94,214.00) rotate(-45) scale(1,1.08)" font-size="10.4" text-anchor="middle" fill="#333">Eifelian</text>
<text transform="translate(516.12,214.00) rotate(-45) scale(1,1.08)" font-size="10.4" text-anchor="middle" fill="#333">Givetian</text>
<text transform="translate(550.30,214.00) rotate(-45) scale(1,1.08)" font-size="10.4" text-anchor="middle" fill="#333">Frasnian</text>
<rect x="41.60" y="180.0" width="25.90" height="11.800000000000011" fill="#70baa6"/>
<rect x="67.20" y="180.0" width="34.00" height="11.800000000000011" fill="#8dc9a4"/>
<rect x="100.90" y="180.0" width="67.70" height="11.800000000000011" fill="#9fd2ad"/>
<rect x="168.30" y="180.0" width="2.00" height="11.800000000000011" fill="#ffffff"/>
<rect x="170.00" y="180.0" width="34.10" height="11.800000000000011" fill="#98cea6"/>
<rect x="203.80" y="180.0" width="68.80" height="11.800000000000011" fill="#b7dcd2"/>
<rect x="272.30" y="180.0" width="68.00" height="11.800000000000011" fill="#c5e3d7"/>
<rect x="340.00" y="180.0" width="35.50" height="11.800000000000011" fill="#e3efe3"/>
<rect x="375.20" y="180.0" width="68.50" height="11.800000000000011" fill="#dfa95d"/>
<rect x="443.40" y="180.0" width="34.70" height="11.800000000000011" fill="#e8c07b"/>
<rect x="477.80" y="180.0" width="67.80" height="11.800000000000011" fill="#f5e5c7"/>
<rect x="545.30" y="180.0" width="24.20" height="11.800000000000011" fill="#f2e3a6"/>
<text x="104.75" y="189.10" font-size="9.8" text-anchor="middle" fill="#2f2f2f" textLength="81.5" lengthAdjust="spacing">Upper Ordovician</text>
<text x="272.40" y="189.10" font-size="9.8" text-anchor="middle" fill="#2f2f2f" textLength="35.8" lengthAdjust="spacing">Silurian</text>
<text x="472.60" y="189.10" font-size="9.8" text-anchor="middle" fill="#2f2f2f" textLength="44.7" lengthAdjust="spacing">Devonian</text>
<line x1="45.88" x2="45.88" y1="258.90" y2="486.70" stroke="#e7e1e1" stroke-width="1.2"/>
<line x1="68.32" x2="68.32" y1="258.90" y2="486.70" stroke="#e7e1e1" stroke-width="1.2"/>
<line x1="90.76" x2="90.76" y1="258.90" y2="486.70" stroke="#e7e1e1" stroke-width="1.2"/>
<line x1="113.20" x2="113.20" y1="258.90" y2="486.70" stroke="#e7e1e1" stroke-width="1.2"/>
<line x1="135.64" x2="135.64" y1="258.90" y2="486.70" stroke="#e7e1e1" stroke-width="1.2"/>
<line x1="158.08" x2="158.08" y1="258.90" y2="486.70" stroke="#e7e1e1" stroke-width="1.2"/>
<line x1="180.52" x2="180.52" y1="258.90" y2="486.70" stroke="#e7e1e1" stroke-width="1.2"/>
<line x1="202.96" x2="202.96" y1="258.90" y2="486.70" stroke="#e7e1e1" stroke-width="1.2"/>
<line x1="225.40" x2="225.40" y1="258.90" y2="486.70" stroke="#e7e1e1" stroke-width="1.2"/>
<line x1="247.84" x2="247.84" y1="258.90" y2="486.70" stroke="#e7e1e1" stroke-width="1.2"/>
<line x1="270.28" x2="270.28" y1="258.90" y2="486.70" stroke="#e7e1e1" stroke-width="1.2"/>
<line x1="292.72" x2="292.72" y1="258.90" y2="486.70" stroke="#e7e1e1" stroke-width="1.2"/>
<line x1="315.16" x2="315.16" y1="258.90" y2="486.70" stroke="#e7e1e1" stroke-width="1.2"/>
<line x1="337.60" x2="337.60" y1="258.90" y2="486.70" stroke="#e7e1e1" stroke-width="1.2"/>
<line x1="360.04" x2="360.04" y1="258.90" y2="486.70" stroke="#e7e1e1" stroke-width="1.2"/>
<line x1="382.48" x2="382.48" y1="258.90" y2="486.70" stroke="#e7e1e1" stroke-width="1.2"/>
<line x1="404.92" x2="404.92" y1="258.90" y2="486.70" stroke="#e7e1e1" stroke-width="1.2"/>
<line x1="43.20" x2="407.75" y1="447.19" y2="447.19" stroke="#e7e1e1" stroke-width="1.1"/>
<line x1="43.20" x2="407.75" y1="402.22" y2="402.22" stroke="#e7e1e1" stroke-width="1.1"/>
<line x1="43.20" x2="407.75" y1="357.26" y2="357.26" stroke="#e7e1e1" stroke-width="1.1"/>
<line x1="43.20" x2="407.75" y1="312.29" y2="312.29" stroke="#e7e1e1" stroke-width="1.1"/>
<line x1="43.20" x2="407.75" y1="267.33" y2="267.33" stroke="#e7e1e1" stroke-width="1.1"/>
<line x1="57.10" x2="57.10" y1="258.90" y2="486.70" stroke="#e7e1e1" stroke-width="1.5"/>
<line x1="79.54" x2="79.54" y1="258.90" y2="486.70" stroke="#e7e1e1" stroke-width="1.5"/>
<line x1="101.98" x2="101.98" y1="258.90" y2="486.70" stroke="#e7e1e1" stroke-width="1.5"/>
<line x1="124.42" x2="124.42" y1="258.90" y2="486.70" stroke="#e7e1e1" stroke-width="1.5"/>
<line x1="146.86" x2="146.86" y1="258.90" y2="486.70" stroke="#e7e1e1" stroke-width="1.5"/>
<line x1="169.30" x2="169.30" y1="258.90" y2="486.70" stroke="#e7e1e1" stroke-width="1.5"/>
<line x1="191.74" x2="191.74" y1="258.90" y2="486.70" stroke="#e7e1e1" stroke-width="1.5"/>
<line x1="214.18" x2="214.18" y1="258.90" y2="486.70" stroke="#e7e1e1" stroke-width="1.5"/>
<line x1="236.62" x2="236.62" y1="258.90" y2="486.70" stroke="#e7e1e1" stroke-width="1.5"/>
<line x1="259.06" x2="259.06" y1="258.90" y2="486.70" stroke="#e7e1e1" stroke-width="1.5"/>
<line x1="281.50" x2="281.50" y1="258.90" y2="486.70" stroke="#e7e1e1" stroke-width="1.5"/>
<line x1="303.94" x2="303.94" y1="258.90" y2="486.70" stroke="#e7e1e1" stroke-width="1.5"/>
<line x1="326.38" x2="326.38" y1="258.90" y2="486.70" stroke="#e7e1e1" stroke-width="1.5"/>
<line x1="348.82" x2="348.82" y1="258.90" y2="486.70" stroke="#e7e1e1" stroke-width="1.5"/>
<line x1="371.26" x2="371.26" y1="258.90" y2="486.70" stroke="#e7e1e1" stroke-width="1.5"/>
<line x1="393.70" x2="393.70" y1="258.90" y2="486.70" stroke="#e7e1e1" stroke-width="1.5"/>
<line x1="43.20" x2="407.75" y1="469.67" y2="469.67" stroke="#e7e1e1" stroke-width="1.6"/>
<line x1="43.20" x2="407.75" y1="424.71" y2="424.71" stroke="#e7e1e1" stroke-width="1.6"/>
<line x1="43.20" x2="407.75" y1="379.74" y2="379.74" stroke="#e7e1e1" stroke-width="1.6"/>
<line x1="43.20" x2="407.75" y1="334.77" y2="334.77" stroke="#e7e1e1" stroke-width="1.6"/>
<line x1="43.20" x2="407.75" y1="289.81" y2="289.81" stroke="#e7e1e1" stroke-width="1.6"/>
<polygon points="57.30,385.61 60.13,385.54 62.95,385.35 65.78,385.06 68.61,384.65 71.43,384.14 74.26,383.54 77.09,382.85 79.92,382.07 82.74,381.22 85.57,380.29 88.40,379.28 91.22,378.22 94.05,377.09 96.88,375.91 99.70,374.67 102.53,373.39 105.36,372.06 108.18,370.70 111.01,369.30 113.84,367.87 116.66,366.41 119.49,364.93 122.32,363.42 125.15,361.90 127.97,360.36 130.80,358.82 133.63,357.26 136.45,355.70 139.28,354.14 142.11,352.58 144.93,351.02 147.76,349.46 150.59,347.92 153.41,346.38 156.24,344.86 159.07,343.35 161.89,341.85 164.72,340.37 167.55,338.92 170.38,337.48 173.20,336.07 176.03,334.68 178.86,333.32 181.68,331.99 184.51,330.68 187.34,329.40 190.16,328.15 192.99,326.94 195.82,325.75 198.64,324.60 201.47,323.48 204.30,322.40 207.13,321.35 209.95,320.34 212.78,319.36 215.61,318.41 218.43,317.50 221.26,316.63 224.09,315.79 226.91,314.99 229.74,314.22 232.57,313.49 235.39,312.79 238.22,312.13 241.05,311.50 243.87,310.90 246.70,310.34 249.53,309.81 252.36,309.31 255.18,308.84 258.01,308.39 260.84,307.98 263.66,307.59 266.49,307.23 269.32,306.90 272.14,306.59 274.97,306.30 277.80,306.03 280.62,305.78 283.45,305.55 286.28,305.33 289.11,305.13 291.93,304.95 294.76,304.77 297.59,304.61 300.41,304.45 303.24,304.30 306.07,304.15 308.89,304.00 311.72,303.86 314.55,303.71 317.37,303.56 320.20,303.40 323.03,303.23 325.85,303.05 328.68,302.86 331.51,302.65 334.34,302.42 337.16,302.17 339.99,301.90 342.82,301.61 345.64,301.28 348.47,300.92 351.30,300.53 354.12,300.11 356.95,299.64 359.78,299.13 362.60,298.58 365.43,297.98 368.26,297.32 371.08,296.62 373.91,295.86 376.74,295.04 379.57,294.15 382.39,293.20 385.22,292.19 388.05,291.10 390.87,289.93 393.70,288.69 393.60,380.53 390.77,378.88 387.94,377.29 385.12,375.78 382.29,374.33 379.46,372.94 376.63,371.62 373.81,370.37 370.98,369.18 368.15,368.05 365.32,366.98 362.49,365.97 359.67,365.02 356.84,364.12 354.01,363.28 351.18,362.50 348.36,361.77 345.53,361.09 342.70,360.47 339.87,359.89 337.05,359.37 334.22,358.89 331.39,358.47 328.56,358.09 325.73,357.75 322.91,357.46 320.08,357.22 317.25,357.02 314.42,356.86 311.60,356.74 308.77,356.66 305.94,356.62 303.11,356.63 300.28,356.67 297.46,356.75 294.63,356.86 291.80,357.01 288.97,357.20 286.15,357.42 283.32,357.68 280.49,357.97 277.66,358.29 274.84,358.65 272.01,359.03 269.18,359.45 266.35,359.90 263.52,360.38 260.70,360.89 257.87,361.42 255.04,361.99 252.21,362.59 249.39,363.21 246.56,363.86 243.73,364.54 240.90,365.24 238.07,365.98 235.25,366.74 232.42,367.52 229.59,368.33 226.76,369.17 223.94,370.03 221.11,370.92 218.28,371.84 215.45,372.78 212.63,373.74 209.80,374.73 206.97,375.75 204.14,376.79 201.31,377.86 198.49,378.95 195.66,380.07 192.83,381.22 190.00,382.39 187.18,383.59 184.35,384.82 181.52,386.07 178.69,387.35 175.86,388.66 173.04,389.99 170.21,391.36 167.38,392.76 164.55,394.18 161.73,395.64 158.90,397.12 156.07,398.64 153.24,400.19 150.42,401.77 147.59,403.39 144.76,405.04 141.93,406.73 139.10,408.45 136.28,410.21 133.45,412.00 130.62,413.84 127.79,415.72 124.97,417.63 122.14,419.59 119.31,421.59 116.48,423.64 113.65,425.73 110.83,427.87 108.00,430.05 105.17,432.29 102.34,434.57 99.52,436.91 96.69,439.30 93.86,441.74 91.03,444.25 88.21,446.81 85.38,449.43 82.55,452.11 79.72,454.85 76.89,457.66 74.07,460.53 71.24,463.48 68.41,466.49 65.58,469.58 62.76,472.74 59.93,475.97 57.10,479.29" fill="#4f9a33" fill-opacity="0.36"/>
<polyline points="57.10,433.69 59.93,431.84 62.76,429.99 65.58,428.14 68.41,426.29 71.24,424.44 74.07,422.60 76.89,420.75 79.72,418.91 82.55,417.08 85.38,415.24 88.21,413.41 91.03,411.59 93.86,409.77 96.69,407.95 99.52,406.15 102.34,404.35 105.17,402.56 108.00,400.77 110.83,399.00 113.65,397.23 116.48,395.48 119.31,393.74 122.14,392.01 124.97,390.29 127.79,388.58 130.62,386.89 133.45,385.21 136.28,383.54 139.10,381.90 141.93,380.26 144.76,378.65 147.59,377.05 150.42,375.47 153.24,373.91 156.07,372.37 158.90,370.85 161.73,369.35 164.55,367.87 167.38,366.41 170.21,364.97 173.04,363.56 175.86,362.17 178.69,360.81 181.52,359.47 184.35,358.15 187.18,356.86 190.00,355.60 192.83,354.36 195.66,353.15 198.49,351.97 201.31,350.82 204.14,349.69 206.97,348.60 209.80,347.53 212.63,346.49 215.45,345.49 218.28,344.51 221.11,343.56 223.94,342.65 226.76,341.76 229.59,340.91 232.42,340.09 235.25,339.30 238.07,338.54 240.90,337.82 243.73,337.12 246.56,336.46 249.39,335.83 252.21,335.24 255.04,334.67 257.87,334.14 260.70,333.64 263.52,333.17 266.35,332.73 269.18,332.33 272.01,331.95 274.84,331.61 277.66,331.30 280.49,331.02 283.32,330.76 286.15,330.54 288.97,330.35 291.80,330.18 294.63,330.04 297.46,329.93 300.28,329.85 303.11,329.79 305.94,329.76 308.77,329.75 311.60,329.76 314.42,329.80 317.25,329.86 320.08,329.94 322.91,330.04 325.73,330.16 328.56,330.30 331.39,330.45 334.22,330.62 337.05,330.80 339.87,331.00 342.70,331.21 345.53,331.42 348.36,331.64 351.18,331.88 354.01,332.11 356.84,332.35 359.67,332.59 362.49,332.83 365.32,333.07 368.15,333.30 370.98,333.53 373.81,333.75 376.63,333.96 379.46,334.15 382.29,334.34 385.12,334.50 387.94,334.65 390.77,334.77 393.60,334.87" fill="none" stroke="#3f8a1f" stroke-width="4.2"/>
<circle cx="57.10" cy="457.04" r="3.1" fill="#3f8a24"/>
<circle cx="79.54" cy="426.54" r="3.1" fill="#3f8a24"/>
<circle cx="101.98" cy="384.83" r="3.1" fill="#3f8a24"/>
<circle cx="124.42" cy="414.88" r="3.1" fill="#3f8a24"/>
<circle cx="146.86" cy="359.27" r="3.1" fill="#3f8a24"/>
<circle cx="169.30" cy="321.60" r="3.1" fill="#3f8a24"/>
<circle cx="191.74" cy="345.81" r="3.1" fill="#3f8a24"/>
<circle cx="214.18" cy="336.84" r="3.1" fill="#3f8a24"/>
<circle cx="236.62" cy="363.75" r="3.1" fill="#3f8a24"/>
<circle cx="259.06" cy="405.91" r="3.1" fill="#3f8a24"/>
<circle cx="281.50" cy="329.67" r="3.1" fill="#3f8a24"/>
<circle cx="303.94" cy="309.93" r="3.1" fill="#3f8a24"/>
<circle cx="326.38" cy="266.88" r="3.1" fill="#3f8a24"/>
<circle cx="348.82" cy="300.07" r="3.1" fill="#3f8a24"/>
<circle cx="371.26" cy="336.84" r="3.1" fill="#3f8a24"/>
<circle cx="393.70" cy="394.25" r="3.1" fill="#3f8a24"/>
<rect x="40.1" y="255.8" width="370.75" height="234.0" fill="none" stroke="#111" stroke-width="1.95"/>
<line x1="37.800000000000004" x2="40.1" y1="469.67" y2="469.67" stroke="#333" stroke-width="0.9"/>
<text transform="translate(35.00,473.27) scale(1,1.08)" font-size="11.5" text-anchor="end" fill="#444" >0</text>
<line x1="37.800000000000004" x2="40.1" y1="424.71" y2="424.71" stroke="#333" stroke-width="0.9"/>
<text transform="translate(35.00,428.31) scale(1,1.08)" font-size="11.5" text-anchor="end" fill="#444" >5</text>
<line x1="37.800000000000004" x2="40.1" y1="379.74" y2="379.74" stroke="#333" stroke-width="0.9"/>
<text transform="translate(35.00,383.34) scale(1,1.08)" font-size="11.5" text-anchor="end" fill="#444" >10</text>
<line x1="37.800000000000004" x2="40.1" y1="334.77" y2="334.77" stroke="#333" stroke-width="0.9"/>
<text transform="translate(35.00,338.38) scale(1,1.08)" font-size="11.5" text-anchor="end" fill="#444" >15</text>
<line x1="37.800000000000004" x2="40.1" y1="289.81" y2="289.81" stroke="#333" stroke-width="0.9"/>
<text transform="translate(35.00,293.41) scale(1,1.08)" font-size="11.5" text-anchor="end" fill="#444" >20</text>
<line x1="57.10" x2="57.10" y1="489.8" y2="492.1" stroke="#333" stroke-width="0.9"/>
<line x1="79.54" x2="79.54" y1="489.8" y2="492.1" stroke="#333" stroke-width="0.9"/>
<line x1="101.98" x2="101.98" y1="489.8" y2="492.1" stroke="#333" stroke-width="0.9"/>
<line x1="124.42" x2="124.42" y1="489.8" y2="492.1" stroke="#333" stroke-width="0.9"/>
<line x1="146.86" x2="146.86" y1="489.8" y2="492.1" stroke="#333" stroke-width="0.9"/>
<line x1="169.30" x2="169.30" y1="489.8" y2="492.1" stroke="#333" stroke-width="0.9"/>
<line x1="191.74" x2="191.74" y1="489.8" y2="492.1" stroke="#333" stroke-width="0.9"/>
<line x1="214.18" x2="214.18" y1="489.8" y2="492.1" stroke="#333" stroke-width="0.9"/>
<line x1="236.62" x2="236.62" y1="489.8" y2="492.1" stroke="#333" stroke-width="0.9"/>
<line x1="259.06" x2="259.06" y1="489.8" y2="492.1" stroke="#333" stroke-width="0.9"/>
<line x1="281.50" x2="281.50" y1="489.8" y2="492.1" stroke="#333" stroke-width="0.9"/>
<line x1="303.94" x2="303.94" y1="489.8" y2="492.1" stroke="#333" stroke-width="0.9"/>
<line x1="326.38" x2="326.38" y1="489.8" y2="492.1" stroke="#333" stroke-width="0.9"/>
<line x1="348.82" x2="348.82" y1="489.8" y2="492.1" stroke="#333" stroke-width="0.9"/>
<line x1="371.26" x2="371.26" y1="489.8" y2="492.1" stroke="#333" stroke-width="0.9"/>
<line x1="393.70" x2="393.70" y1="489.8" y2="492.1" stroke="#333" stroke-width="0.9"/>
<text transform="translate(18.6,353.6) rotate(-90) scale(1,1.08)" font-size="12.3" text-anchor="middle" fill="#1a1a1a">Combined Diversity</text>
<text transform="translate(45.20,247.90) scale(1,1.08)" font-size="15.5" text-anchor="start" fill="#1a1a1a" dx="-3.4">B</text>
<text transform="translate(122.70,246.50) scale(1,1.08)" font-size="12.15" text-anchor="start" fill="#1a1a1a" textLength="218.3" lengthAdjust="spacingAndGlyphs">GAM: Combined Diversity Through Time</text>
<rect x="43.70" y="494.1" width="17.85" height="11.5" fill="#70baa6"/>
<rect x="61.25" y="494.1" width="23.40" height="11.5" fill="#8dc9a4"/>
<rect x="84.34" y="494.1" width="46.49" height="11.5" fill="#9fd2ad"/>
<rect x="130.54" y="494.1" width="1.47" height="11.5" fill="#ffffff"/>
<rect x="131.70" y="494.1" width="23.47" height="11.5" fill="#98cea6"/>
<rect x="154.87" y="494.1" width="47.25" height="11.5" fill="#b7dcd2"/>
<rect x="201.81" y="494.1" width="46.70" height="11.5" fill="#c5e3d7"/>
<rect x="248.21" y="494.1" width="24.42" height="11.5" fill="#e3efe3"/>
<rect x="272.34" y="494.1" width="47.04" height="11.5" fill="#dfa95d"/>
<rect x="319.08" y="494.1" width="23.88" height="11.5" fill="#e8c07b"/>
<rect x="342.66" y="494.1" width="46.56" height="11.5" fill="#f5e5c7"/>
<rect x="388.92" y="494.1" width="16.68" height="11.5" fill="#f2e3a6"/>
<text x="87.50" y="502.80" font-size="10.0" text-anchor="middle" fill="#2f2f2f" textLength="77.7" lengthAdjust="spacing">Upper Ordovician</text>
<text x="207.40" y="502.80" font-size="10.0" text-anchor="middle" fill="#2f2f2f" textLength="35.6" lengthAdjust="spacing">Silurian</text>
<text x="334.20" y="502.80" font-size="10.0" text-anchor="middle" fill="#2f2f2f" textLength="44.5" lengthAdjust="spacing">Devonian</text>
<line x1="456.98" x2="456.98" y1="258.90" y2="486.80" stroke="#e7e1e1" stroke-width="1.2"/>
<line x1="479.22" x2="479.22" y1="258.90" y2="486.80" stroke="#e7e1e1" stroke-width="1.2"/>
<line x1="501.46" x2="501.46" y1="258.90" y2="486.80" stroke="#e7e1e1" stroke-width="1.2"/>
<line x1="523.70" x2="523.70" y1="258.90" y2="486.80" stroke="#e7e1e1" stroke-width="1.2"/>
<line x1="545.94" x2="545.94" y1="258.90" y2="486.80" stroke="#e7e1e1" stroke-width="1.2"/>
<line x1="568.18" x2="568.18" y1="258.90" y2="486.80" stroke="#e7e1e1" stroke-width="1.2"/>
<line x1="590.42" x2="590.42" y1="258.90" y2="486.80" stroke="#e7e1e1" stroke-width="1.2"/>
<line x1="612.66" x2="612.66" y1="258.90" y2="486.80" stroke="#e7e1e1" stroke-width="1.2"/>
<line x1="634.90" x2="634.90" y1="258.90" y2="486.80" stroke="#e7e1e1" stroke-width="1.2"/>
<line x1="657.14" x2="657.14" y1="258.90" y2="486.80" stroke="#e7e1e1" stroke-width="1.2"/>
<line x1="679.38" x2="679.38" y1="258.90" y2="486.80" stroke="#e7e1e1" stroke-width="1.2"/>
<line x1="701.62" x2="701.62" y1="258.90" y2="486.80" stroke="#e7e1e1" stroke-width="1.2"/>
<line x1="723.86" x2="723.86" y1="258.90" y2="486.80" stroke="#e7e1e1" stroke-width="1.2"/>
<line x1="746.10" x2="746.10" y1="258.90" y2="486.80" stroke="#e7e1e1" stroke-width="1.2"/>
<line x1="768.34" x2="768.34" y1="258.90" y2="486.80" stroke="#e7e1e1" stroke-width="1.2"/>
<line x1="790.58" x2="790.58" y1="258.90" y2="486.80" stroke="#e7e1e1" stroke-width="1.2"/>
<line x1="812.82" x2="812.82" y1="258.90" y2="486.80" stroke="#e7e1e1" stroke-width="1.2"/>
<line x1="454.50" x2="815.00" y1="444.25" y2="444.25" stroke="#e7e1e1" stroke-width="1.1"/>
<line x1="454.50" x2="815.00" y1="375.95" y2="375.95" stroke="#e7e1e1" stroke-width="1.1"/>
<line x1="454.50" x2="815.00" y1="307.65" y2="307.65" stroke="#e7e1e1" stroke-width="1.1"/>
<line x1="468.10" x2="468.10" y1="258.90" y2="486.80" stroke="#e7e1e1" stroke-width="1.5"/>
<line x1="490.34" x2="490.34" y1="258.90" y2="486.80" stroke="#e7e1e1" stroke-width="1.5"/>
<line x1="512.58" x2="512.58" y1="258.90" y2="486.80" stroke="#e7e1e1" stroke-width="1.5"/>
<line x1="534.82" x2="534.82" y1="258.90" y2="486.80" stroke="#e7e1e1" stroke-width="1.5"/>
<line x1="557.06" x2="557.06" y1="258.90" y2="486.80" stroke="#e7e1e1" stroke-width="1.5"/>
<line x1="579.30" x2="579.30" y1="258.90" y2="486.80" stroke="#e7e1e1" stroke-width="1.5"/>
<line x1="601.54" x2="601.54" y1="258.90" y2="486.80" stroke="#e7e1e1" stroke-width="1.5"/>
<line x1="623.78" x2="623.78" y1="258.90" y2="486.80" stroke="#e7e1e1" stroke-width="1.5"/>
<line x1="646.02" x2="646.02" y1="258.90" y2="486.80" stroke="#e7e1e1" stroke-width="1.5"/>
<line x1="668.26" x2="668.26" y1="258.90" y2="486.80" stroke="#e7e1e1" stroke-width="1.5"/>
<line x1="690.50" x2="690.50" y1="258.90" y2="486.80" stroke="#e7e1e1" stroke-width="1.5"/>
<line x1="712.74" x2="712.74" y1="258.90" y2="486.80" stroke="#e7e1e1" stroke-width="1.5"/>
<line x1="734.98" x2="734.98" y1="258.90" y2="486.80" stroke="#e7e1e1" stroke-width="1.5"/>
<line x1="757.22" x2="757.22" y1="258.90" y2="486.80" stroke="#e7e1e1" stroke-width="1.5"/>
<line x1="779.46" x2="779.46" y1="258.90" y2="486.80" stroke="#e7e1e1" stroke-width="1.5"/>
<line x1="801.70" x2="801.70" y1="258.90" y2="486.80" stroke="#e7e1e1" stroke-width="1.5"/>
<line x1="454.50" x2="815.00" y1="478.40" y2="478.40" stroke="#e7e1e1" stroke-width="1.6"/>
<line x1="454.50" x2="815.00" y1="410.10" y2="410.10" stroke="#e7e1e1" stroke-width="1.6"/>
<line x1="454.50" x2="815.00" y1="341.80" y2="341.80" stroke="#e7e1e1" stroke-width="1.6"/>
<line x1="454.50" x2="815.00" y1="273.50" y2="273.50" stroke="#e7e1e1" stroke-width="1.6"/>
<polygon points="468.10,286.56 470.90,290.51 473.70,294.38 476.50,298.17 479.30,301.87 482.10,305.49 484.90,309.02 487.70,312.47 490.50,315.83 493.30,319.10 496.10,322.28 498.90,325.37 501.70,328.38 504.50,331.29 507.30,334.11 510.10,336.84 512.90,339.48 515.70,342.03 518.50,344.49 521.30,346.86 524.10,349.14 526.90,351.33 529.70,353.43 532.50,355.44 535.30,357.37 538.10,359.21 540.90,360.97 543.70,362.63 546.50,364.22 549.30,365.72 552.10,367.14 554.90,368.48 557.70,369.74 560.50,370.93 563.30,372.03 566.10,373.06 568.90,374.02 571.70,374.90 574.50,375.71 577.30,376.46 580.10,377.13 582.90,377.73 585.70,378.27 588.50,378.75 591.30,379.16 594.10,379.52 596.90,379.81 599.70,380.04 602.50,380.22 605.30,380.34 608.10,380.41 610.90,380.43 613.70,380.40 616.50,380.31 619.30,380.18 622.10,380.01 624.90,379.78 627.70,379.52 630.50,379.21 633.30,378.86 636.10,378.47 638.90,378.04 641.70,377.57 644.50,377.06 647.30,376.52 650.10,375.94 652.90,375.33 655.70,374.69 658.50,374.01 661.30,373.30 664.10,372.56 666.90,371.78 669.70,370.98 672.50,370.14 675.30,369.27 678.10,368.38 680.90,367.45 683.70,366.49 686.50,365.50 689.30,364.48 692.10,363.42 694.90,362.33 697.70,361.21 700.50,360.06 703.30,358.87 706.10,357.64 708.90,356.38 711.70,355.08 714.50,353.74 717.30,352.35 720.10,350.92 722.90,349.45 725.70,347.92 728.50,346.35 731.30,344.73 734.10,343.04 736.90,341.30 739.70,339.50 742.50,337.64 745.30,335.71 748.10,333.70 750.90,331.62 753.70,329.47 756.50,327.23 759.30,324.90 762.10,322.48 764.90,319.97 767.70,317.35 770.50,314.63 773.30,311.80 776.10,308.85 778.90,305.78 781.70,302.58 784.50,299.24 787.30,295.77 790.10,292.14 792.90,288.36 795.70,284.42 798.50,280.31 801.30,276.03 801.30,434.44 798.50,433.29 795.70,432.28 792.90,431.41 790.10,430.67 787.30,430.07 784.51,429.59 781.71,429.22 778.91,428.98 776.11,428.84 773.31,428.80 770.51,428.87 767.71,429.03 764.91,429.28 762.11,429.62 759.31,430.04 756.51,430.53 753.71,431.10 750.92,431.73 748.12,432.42 745.32,433.18 742.52,433.98 739.72,434.84 736.92,435.75 734.12,436.69 731.32,437.67 728.52,438.69 725.72,439.73 722.92,440.80 720.12,441.90 717.33,443.01 714.53,444.13 711.73,445.27 708.93,446.42 706.13,447.57 703.33,448.72 700.53,449.86 697.73,451.01 694.93,452.14 692.13,453.26 689.33,454.37 686.53,455.46 683.74,456.53 680.94,457.58 678.14,458.60 675.34,459.60 672.54,460.57 669.74,461.50 666.94,462.40 664.14,463.27 661.34,464.09 658.54,464.88 655.74,465.62 652.94,466.33 650.15,466.98 647.35,467.59 644.55,468.16 641.75,468.67 638.95,469.14 636.15,469.55 633.35,469.92 630.55,470.23 627.75,470.49 624.95,470.70 622.15,470.85 619.35,470.95 616.56,470.99 613.76,470.98 610.96,470.92 608.16,470.81 605.36,470.64 602.56,470.42 599.76,470.14 596.96,469.82 594.16,469.45 591.36,469.02 588.56,468.55 585.76,468.04 582.97,467.48 580.17,466.87 577.37,466.23 574.57,465.54 571.77,464.82 568.97,464.06 566.17,463.27 563.37,462.45 560.57,461.61 557.77,460.74 554.97,459.84 552.17,458.93 549.38,458.00 546.58,457.06 543.78,456.12 540.98,455.17 538.18,454.22 535.38,453.27 532.58,452.33 529.78,451.41 526.98,450.50 524.18,449.61 521.38,448.75 518.58,447.92 515.79,447.13 512.99,446.39 510.19,445.69 507.39,445.05 504.59,444.47 501.79,443.95 498.99,443.51 496.19,443.15 493.39,442.87 490.59,442.69 487.79,442.61 484.99,442.64 482.20,442.79 479.40,443.06 476.60,443.46 473.80,444.00 471.00,444.68 468.20,445.53" fill="#b82a30" fill-opacity="0.36"/>
<polyline points="467.90,365.82 470.70,367.59 473.50,369.37 476.31,371.16 479.11,372.96 481.91,374.76 484.71,376.56 487.51,378.36 490.31,380.16 493.12,381.95 495.92,383.72 498.72,385.48 501.52,387.23 504.32,388.96 507.12,390.67 509.93,392.35 512.73,394.01 515.53,395.64 518.33,397.24 521.13,398.82 523.93,400.35 526.74,401.86 529.54,403.33 532.34,404.76 535.14,406.15 537.94,407.50 540.74,408.81 543.55,410.08 546.35,411.30 549.15,412.47 551.95,413.61 554.75,414.69 557.55,415.72 560.36,416.71 563.16,417.65 565.96,418.53 568.76,419.37 571.56,420.15 574.36,420.88 577.17,421.56 579.97,422.19 582.77,422.77 585.57,423.29 588.37,423.76 591.17,424.17 593.98,424.53 596.78,424.84 599.58,425.10 602.38,425.30 605.18,425.45 607.98,425.55 610.79,425.59 613.59,425.58 616.39,425.52 619.19,425.41 621.99,425.25 624.79,425.04 627.60,424.78 630.40,424.47 633.20,424.11 636.00,423.71 638.80,423.25 641.60,422.75 644.41,422.21 647.21,421.62 650.01,420.99 652.81,420.31 655.61,419.59 658.41,418.84 661.22,418.04 664.02,417.20 666.82,416.32 669.62,415.41 672.42,414.46 675.22,413.48 678.03,412.47 680.83,411.42 683.63,410.34 686.43,409.23 689.23,408.09 692.03,406.93 694.84,405.74 697.64,404.53 700.44,403.29 703.24,402.03 706.04,400.75 708.84,399.44 711.65,398.13 714.45,396.79 717.25,395.44 720.05,394.08 722.85,392.70 725.65,391.31 728.46,389.91 731.26,388.51 734.06,387.09 736.86,385.67 739.66,384.25 742.46,382.82 745.27,381.40 748.07,379.97 750.87,378.54 753.67,377.12 756.47,375.70 759.27,374.28 762.08,372.87 764.88,371.47 767.68,370.08 770.48,368.70 773.28,367.34 776.08,365.98 778.89,364.64 781.69,363.32 784.49,362.01 787.29,360.72 790.09,359.45 792.89,358.20 795.70,356.97 798.50,355.77 801.30,354.58" fill="none" stroke="#a81c22" stroke-width="4.2"/>
<circle cx="468.10" cy="340.78" r="3.1" fill="#ab1d24"/>
<circle cx="490.34" cy="325.75" r="3.1" fill="#ab1d24"/>
<circle cx="512.58" cy="457.23" r="3.1" fill="#ab1d24"/>
<circle cx="534.82" cy="334.63" r="3.1" fill="#ab1d24"/>
<circle cx="557.06" cy="457.23" r="3.1" fill="#ab1d24"/>
<circle cx="579.30" cy="479.42" r="3.1" fill="#ab1d24"/>
<circle cx="601.54" cy="471.57" r="3.1" fill="#ab1d24"/>
<circle cx="623.78" cy="443.23" r="3.1" fill="#ab1d24"/>
<circle cx="646.02" cy="444.25" r="3.1" fill="#ab1d24"/>
<circle cx="668.26" cy="267.01" r="3.1" fill="#ab1d24"/>
<circle cx="690.50" cy="428.88" r="3.1" fill="#ab1d24"/>
<circle cx="712.74" cy="393.02" r="3.1" fill="#ab1d24"/>
<circle cx="734.98" cy="429.91" r="3.1" fill="#ab1d24"/>
<circle cx="757.22" cy="428.88" r="3.1" fill="#ab1d24"/>
<circle cx="779.46" cy="397.12" r="3.1" fill="#ab1d24"/>
<circle cx="801.70" cy="272.13" r="3.1" fill="#ab1d24"/>
<rect x="451.4" y="255.8" width="366.70000000000005" height="234.09999999999997" fill="none" stroke="#111" stroke-width="1.95"/>
<line x1="449.09999999999997" x2="451.4" y1="478.40" y2="478.40" stroke="#333" stroke-width="0.9"/>
<text transform="translate(449.80,481.70) scale(1,1.08)" font-size="10" text-anchor="end" fill="#444" >40</text>
<line x1="449.09999999999997" x2="451.4" y1="410.10" y2="410.10" stroke="#333" stroke-width="0.9"/>
<text transform="translate(449.80,413.40) scale(1,1.08)" font-size="10" text-anchor="end" fill="#444" >60</text>
<line x1="449.09999999999997" x2="451.4" y1="341.80" y2="341.80" stroke="#333" stroke-width="0.9"/>
<text transform="translate(449.80,345.10) scale(1,1.08)" font-size="10" text-anchor="end" fill="#444" >80</text>
<line x1="449.09999999999997" x2="451.4" y1="273.50" y2="273.50" stroke="#333" stroke-width="0.9"/>
<text transform="translate(449.80,276.80) scale(1,1.08)" font-size="10" text-anchor="end" fill="#444" >100</text>
<line x1="468.10" x2="468.10" y1="489.9" y2="492.2" stroke="#333" stroke-width="0.9"/>
<line x1="490.34" x2="490.34" y1="489.9" y2="492.2" stroke="#333" stroke-width="0.9"/>
<line x1="512.58" x2="512.58" y1="489.9" y2="492.2" stroke="#333" stroke-width="0.9"/>
<line x1="534.82" x2="534.82" y1="489.9" y2="492.2" stroke="#333" stroke-width="0.9"/>
<line x1="557.06" x2="557.06" y1="489.9" y2="492.2" stroke="#333" stroke-width="0.9"/>
<line x1="579.30" x2="579.30" y1="489.9" y2="492.2" stroke="#333" stroke-width="0.9"/>
<line x1="601.54" x2="601.54" y1="489.9" y2="492.2" stroke="#333" stroke-width="0.9"/>
<line x1="623.78" x2="623.78" y1="489.9" y2="492.2" stroke="#333" stroke-width="0.9"/>
<line x1="646.02" x2="646.02" y1="489.9" y2="492.2" stroke="#333" stroke-width="0.9"/>
<line x1="668.26" x2="668.26" y1="489.9" y2="492.2" stroke="#333" stroke-width="0.9"/>
<line x1="690.50" x2="690.50" y1="489.9" y2="492.2" stroke="#333" stroke-width="0.9"/>
<line x1="712.74" x2="712.74" y1="489.9" y2="492.2" stroke="#333" stroke-width="0.9"/>
<line x1="734.98" x2="734.98" y1="489.9" y2="492.2" stroke="#333" stroke-width="0.9"/>
<line x1="757.22" x2="757.22" y1="489.9" y2="492.2" stroke="#333" stroke-width="0.9"/>
<line x1="779.46" x2="779.46" y1="489.9" y2="492.2" stroke="#333" stroke-width="0.9"/>
<line x1="801.70" x2="801.70" y1="489.9" y2="492.2" stroke="#333" stroke-width="0.9"/>
<text transform="translate(433.3,366.0) rotate(-90) scale(1,1.08)" font-size="12.35" text-anchor="middle" fill="#1a1a1a">Morphospace Volume</text>
<text transform="translate(441.10,247.90) scale(1,1.08)" font-size="15.5" text-anchor="start" fill="#1a1a1a" >C</text>
<text transform="translate(517.70,246.50) scale(1,1.08)" font-size="12.15" text-anchor="start" fill="#1a1a1a" textLength="230.4" lengthAdjust="spacingAndGlyphs">GAM: Morphospace Volume Through Time</text>
<rect x="456.20" y="494.1" width="17.80" height="11.5" fill="#70baa6"/>
<rect x="473.70" y="494.1" width="23.34" height="11.5" fill="#8dc9a4"/>
<rect x="496.74" y="494.1" width="46.38" height="11.5" fill="#9fd2ad"/>
<rect x="542.82" y="494.1" width="1.46" height="11.5" fill="#ffffff"/>
<rect x="543.98" y="494.1" width="23.41" height="11.5" fill="#98cea6"/>
<rect x="567.09" y="494.1" width="47.13" height="11.5" fill="#b7dcd2"/>
<rect x="613.92" y="494.1" width="46.58" height="11.5" fill="#c5e3d7"/>
<rect x="660.20" y="494.1" width="24.36" height="11.5" fill="#e3efe3"/>
<rect x="684.27" y="494.1" width="46.93" height="11.5" fill="#dfa95d"/>
<rect x="730.90" y="494.1" width="23.82" height="11.5" fill="#e8c07b"/>
<rect x="754.41" y="494.1" width="46.45" height="11.5" fill="#f5e5c7"/>
<rect x="800.56" y="494.1" width="16.64" height="11.5" fill="#f2e3a6"/>
<text x="499.70" y="502.80" font-size="10.0" text-anchor="middle" fill="#2f2f2f" textLength="77.8" lengthAdjust="spacing">Upper Ordovician</text>
<text x="619.40" y="502.80" font-size="10.0" text-anchor="middle" fill="#2f2f2f" textLength="35.6" lengthAdjust="spacing">Silurian</text>
<text x="746.30" y="502.80" font-size="10.0" text-anchor="middle" fill="#2f2f2f" textLength="44.5" lengthAdjust="spacing">Devonian</text>
<clipPath id="clipD"><rect x="611.85" y="19.9" width="185.75" height="169.9"/></clipPath>
<g clip-path="url(#clipD)">
<line x1="628.55" x2="628.55" y1="23.00" y2="186.70" stroke="#e7e1e1" stroke-width="1.2"/>
<line x1="668.65" x2="668.65" y1="23.00" y2="186.70" stroke="#e7e1e1" stroke-width="1.2"/>
<line x1="708.75" x2="708.75" y1="23.00" y2="186.70" stroke="#e7e1e1" stroke-width="1.2"/>
<line x1="748.85" x2="748.85" y1="23.00" y2="186.70" stroke="#e7e1e1" stroke-width="1.2"/>
<line x1="788.95" x2="788.95" y1="23.00" y2="186.70" stroke="#e7e1e1" stroke-width="1.2"/>
<line x1="614.95" x2="794.50" y1="164.50" y2="164.50" stroke="#e7e1e1" stroke-width="1.1"/>
<line x1="614.95" x2="794.50" y1="122.30" y2="122.30" stroke="#e7e1e1" stroke-width="1.1"/>
<line x1="614.95" x2="794.50" y1="80.10" y2="80.10" stroke="#e7e1e1" stroke-width="1.1"/>
<line x1="614.95" x2="794.50" y1="37.90" y2="37.90" stroke="#e7e1e1" stroke-width="1.1"/>
<line x1="648.60" x2="648.60" y1="23.00" y2="186.70" stroke="#e7e1e1" stroke-width="1.5"/>
<line x1="688.70" x2="688.70" y1="23.00" y2="186.70" stroke="#e7e1e1" stroke-width="1.5"/>
<line x1="728.80" x2="728.80" y1="23.00" y2="186.70" stroke="#e7e1e1" stroke-width="1.5"/>
<line x1="768.90" x2="768.90" y1="23.00" y2="186.70" stroke="#e7e1e1" stroke-width="1.5"/>
<line x1="614.95" x2="794.50" y1="185.60" y2="185.60" stroke="#e7e1e1" stroke-width="1.6"/>
<line x1="614.95" x2="794.50" y1="143.40" y2="143.40" stroke="#e7e1e1" stroke-width="1.6"/>
<line x1="614.95" x2="794.50" y1="101.20" y2="101.20" stroke="#e7e1e1" stroke-width="1.6"/>
<line x1="614.95" x2="794.50" y1="59.00" y2="59.00" stroke="#e7e1e1" stroke-width="1.6"/>
<polygon points="619.80,37.58 621.23,39.47 622.66,41.31 624.09,43.11 625.51,44.87 626.94,46.58 628.37,48.26 629.80,49.90 631.23,51.50 632.66,53.07 634.09,54.60 635.51,56.11 636.94,57.59 638.37,59.04 639.80,60.46 641.23,61.86 642.66,63.24 644.09,64.60 645.51,65.93 646.94,67.25 648.37,68.54 649.80,69.82 651.23,71.08 652.66,72.33 654.09,73.56 655.51,74.78 656.94,75.98 658.37,77.17 659.80,78.34 661.23,79.51 662.66,80.66 664.09,81.80 665.51,82.93 666.94,84.05 668.37,85.16 669.80,86.26 671.23,87.35 672.66,88.43 674.09,89.50 675.51,90.55 676.94,91.60 678.37,92.64 679.80,93.67 681.23,94.69 682.66,95.70 684.09,96.69 685.51,97.68 686.94,98.66 688.37,99.62 689.80,100.57 691.23,101.51 692.66,102.44 694.09,103.36 695.51,104.26 696.94,105.15 698.37,106.02 699.80,106.88 701.23,107.73 702.66,108.56 704.09,109.37 705.51,110.17 706.94,110.95 708.37,111.71 709.80,112.45 711.23,113.17 712.66,113.88 714.09,114.56 715.51,115.22 716.94,115.86 718.37,116.48 719.80,117.08 721.23,117.65 722.66,118.20 724.09,118.73 725.51,119.23 726.94,119.70 728.37,120.14 729.80,120.56 731.23,120.96 732.66,121.32 734.09,121.65 735.51,121.96 736.94,122.23 738.37,122.47 739.80,122.69 741.23,122.87 742.66,123.01 744.09,123.13 745.51,123.21 746.94,123.26 748.37,123.27 749.80,123.25 751.23,123.20 752.66,123.11 754.09,122.98 755.51,122.82 756.94,122.62 758.37,122.39 759.80,122.12 761.23,121.81 762.66,121.46 764.09,121.08 765.51,120.66 766.94,120.21 768.37,119.71 769.80,119.18 771.23,118.62 772.66,118.01 774.09,117.37 775.51,116.69 776.94,115.98 778.37,115.23 779.80,114.45 781.23,113.63 782.66,112.77 784.09,111.89 785.51,110.96 786.94,110.01 788.37,109.02 789.80,108.01 789.80,183.02 788.37,182.19 786.94,181.36 785.51,180.53 784.09,179.71 782.66,178.89 781.23,178.07 779.80,177.25 778.37,176.44 776.94,175.63 775.51,174.83 774.09,174.03 772.66,173.24 771.23,172.45 769.80,171.67 768.37,170.89 766.94,170.12 765.51,169.35 764.09,168.59 762.66,167.83 761.23,167.08 759.80,166.33 758.37,165.59 756.94,164.85 755.51,164.12 754.09,163.39 752.66,162.67 751.23,161.95 749.80,161.24 748.37,160.52 746.94,159.82 745.51,159.11 744.09,158.41 742.66,157.72 741.23,157.02 739.80,156.33 738.37,155.64 736.94,154.95 735.51,154.26 734.09,153.58 732.66,152.89 731.23,152.21 729.80,151.53 728.37,150.85 726.94,150.17 725.51,149.48 724.09,148.80 722.66,148.12 721.23,147.44 719.80,146.75 718.37,146.07 716.94,145.38 715.51,144.69 714.09,144.00 712.66,143.31 711.23,142.61 709.80,141.91 708.37,141.21 706.94,140.51 705.51,139.81 704.09,139.10 702.66,138.39 701.23,137.68 699.80,136.96 698.37,136.24 696.94,135.52 695.51,134.80 694.09,134.07 692.66,133.35 691.23,132.62 689.80,131.89 688.37,131.16 686.94,130.42 685.51,129.69 684.09,128.95 682.66,128.22 681.23,127.48 679.80,126.75 678.37,126.02 676.94,125.29 675.51,124.56 674.09,123.84 672.66,123.12 671.23,122.40 669.80,121.69 668.37,120.99 666.94,120.29 665.51,119.60 664.09,118.92 662.66,118.25 661.23,117.60 659.80,116.95 658.37,116.32 656.94,115.70 655.51,115.10 654.09,114.52 652.66,113.95 651.23,113.41 649.80,112.89 648.37,112.39 646.94,111.92 645.51,111.47 644.09,111.06 642.66,110.67 641.23,110.32 639.80,110.00 638.37,109.72 636.94,109.48 635.51,109.28 634.09,109.13 632.66,109.02 631.23,108.96 629.80,108.95 628.37,109.00 626.94,109.10 625.51,109.26 624.09,109.49 622.66,109.78 621.23,110.13 619.80,110.56" fill="#6e4636" fill-opacity="0.36"/>
<polyline points="619.80,74.38 621.23,75.12 622.66,75.84 624.09,76.55 625.51,77.25 626.94,77.95 628.37,78.63 629.80,79.32 631.23,80.00 632.66,80.68 634.09,81.35 635.51,82.03 636.94,82.71 638.37,83.40 639.80,84.08 641.23,84.78 642.66,85.47 644.09,86.18 645.51,86.89 646.94,87.61 648.37,88.33 649.80,89.07 651.23,89.81 652.66,90.56 654.09,91.32 655.51,92.09 656.94,92.87 658.37,93.66 659.80,94.46 661.23,95.27 662.66,96.09 664.09,96.92 665.51,97.75 666.94,98.60 668.37,99.45 669.80,100.32 671.23,101.19 672.66,102.06 674.09,102.95 675.51,103.84 676.94,104.74 678.37,105.64 679.80,106.55 681.23,107.46 682.66,108.38 684.09,109.30 685.51,110.22 686.94,111.14 688.37,112.07 689.80,112.99 691.23,113.92 692.66,114.84 694.09,115.76 695.51,116.68 696.94,117.59 698.37,118.50 699.80,119.41 701.23,120.31 702.66,121.20 704.09,122.09 705.51,122.96 706.94,123.83 708.37,124.69 709.80,125.54 711.23,126.37 712.66,127.20 714.09,128.01 715.51,128.81 716.94,129.59 718.37,130.36 719.80,131.11 721.23,131.85 722.66,132.57 724.09,133.27 725.51,133.95 726.94,134.62 728.37,135.26 729.80,135.89 731.23,136.50 732.66,137.08 734.09,137.65 735.51,138.20 736.94,138.72 738.37,139.22 739.80,139.70 741.23,140.16 742.66,140.60 744.09,141.02 745.51,141.41 746.94,141.78 748.37,142.13 749.80,142.46 751.23,142.77 752.66,143.06 754.09,143.33 755.51,143.57 756.94,143.80 758.37,144.01 759.80,144.20 761.23,144.38 762.66,144.54 764.09,144.68 765.51,144.81 766.94,144.92 768.37,145.03 769.80,145.12 771.23,145.20 772.66,145.27 774.09,145.34 775.51,145.40 776.94,145.46 778.37,145.51 779.80,145.57 781.23,145.63 782.66,145.69 784.09,145.76 785.51,145.84 786.94,145.93 788.37,146.03 789.80,146.15" fill="none" stroke="#6a4131" stroke-width="4.2"/>
<circle cx="619.73" cy="92.25" r="2.2" fill="#440154"/>
<circle cx="647.00" cy="84.83" r="2.2" fill="#481a6c"/>
<circle cx="684.29" cy="149.81" r="2.2" fill="#472f7d"/>
<circle cx="657.42" cy="89.22" r="2.2" fill="#414487"/>
<circle cx="707.15" cy="149.81" r="2.2" fill="#39568c"/>
<circle cx="740.83" cy="160.79" r="2.2" fill="#31688e"/>
<circle cx="719.18" cy="156.90" r="2.2" fill="#2a788e"/>
<circle cx="727.20" cy="142.89" r="2.2" fill="#23888e"/>
<circle cx="703.14" cy="143.40" r="2.2" fill="#1f988b"/>
<circle cx="665.44" cy="55.79" r="2.2" fill="#22a884"/>
<circle cx="733.61" cy="135.80" r="2.2" fill="#35b779"/>
<circle cx="751.26" cy="118.08" r="2.2" fill="#54c568"/>
<circle cx="789.75" cy="136.31" r="2.2" fill="#7ad151"/>
<circle cx="760.08" cy="135.80" r="2.2" fill="#a5db36"/>
<circle cx="727.20" cy="120.11" r="2.2" fill="#d2e21b"/>
<circle cx="675.87" cy="58.32" r="2.2" fill="#fde725"/>
</g>
<line x1="797.6" x2="797.6" y1="19.9" y2="189.8" stroke="#222" stroke-width="1.4"/>
<rect x="611.85" y="19.9" width="206.10000000000002" height="169.9" fill="none" stroke="#111" stroke-width="1.95"/>
<circle cx="803.3" cy="41.50" r="1.9" fill="#fde725"/>
<circle cx="803.3" cy="48.98" r="1.9" fill="#d2e21b"/>
<circle cx="803.3" cy="56.46" r="1.9" fill="#a5db36"/>
<circle cx="803.3" cy="63.94" r="1.9" fill="#7ad151"/>
<circle cx="803.3" cy="71.42" r="1.9" fill="#54c568"/>
<circle cx="803.3" cy="78.90" r="1.9" fill="#35b779"/>
<circle cx="803.3" cy="86.38" r="1.9" fill="#22a884"/>
<circle cx="803.3" cy="93.86" r="1.9" fill="#1f988b"/>
<circle cx="803.3" cy="101.34" r="1.9" fill="#23888e"/>
<circle cx="803.3" cy="108.82" r="1.9" fill="#2a788e"/>
<circle cx="803.3" cy="116.30" r="1.9" fill="#31688e"/>
<circle cx="803.3" cy="123.78" r="1.9" fill="#39568c"/>
<circle cx="803.3" cy="131.26" r="1.9" fill="#414487"/>
<circle cx="803.3" cy="138.74" r="1.9" fill="#472f7d"/>
<circle cx="803.3" cy="146.22" r="1.9" fill="#481a6c"/>
<circle cx="803.3" cy="153.70" r="1.9" fill="#440154"/>
<line x1="797.6" x2="810" y1="82.8" y2="82.8" stroke="#777" stroke-width="1"/>
<line x1="808.8" x2="808.8" y1="80.2" y2="85.39999999999999" stroke="#777" stroke-width="1"/>
<line x1="797.6" x2="810" y1="127.6" y2="127.6" stroke="#777" stroke-width="1"/>
<line x1="808.8" x2="808.8" y1="125.0" y2="130.2" stroke="#777" stroke-width="1"/>
<text transform="translate(813.7,58.0) rotate(-90) scale(1,1.08)" font-size="9.6" text-anchor="middle" fill="#333">Devonian</text>
<text transform="translate(813.7,105.5) rotate(-90) scale(1,1.08)" font-size="9.6" text-anchor="middle" fill="#333">Silurian</text>
<text transform="translate(813.7,153.4) rotate(-90) scale(1,1.08)" font-size="9.6" text-anchor="middle" fill="#333">Ordovician</text>
<line x1="609.5500000000001" x2="611.85" y1="185.60" y2="185.60" stroke="#333" stroke-width="0.9"/>
<text transform="translate(608.80,188.00) scale(1,1.08)" font-size="9.8" text-anchor="end" fill="#444" >25</text>
<line x1="609.5500000000001" x2="611.85" y1="143.40" y2="143.40" stroke="#333" stroke-width="0.9"/>
<text transform="translate(608.80,145.80) scale(1,1.08)" font-size="9.8" text-anchor="end" fill="#444" >50</text>
<line x1="609.5500000000001" x2="611.85" y1="101.20" y2="101.20" stroke="#333" stroke-width="0.9"/>
<text transform="translate(608.80,103.60) scale(1,1.08)" font-size="9.8" text-anchor="end" fill="#444" >75</text>
<line x1="609.5500000000001" x2="611.85" y1="59.00" y2="59.00" stroke="#333" stroke-width="0.9"/>
<text transform="translate(608.80,61.40) scale(1,1.08)" font-size="9.8" text-anchor="end" fill="#444" >100</text>
<line x1="648.60" x2="648.60" y1="189.8" y2="192.10000000000002" stroke="#333" stroke-width="0.9"/>
<text transform="translate(648.60,202.80) scale(1,1.08)" font-size="10" text-anchor="middle" fill="#444" >5</text>
<line x1="688.70" x2="688.70" y1="189.8" y2="192.10000000000002" stroke="#333" stroke-width="0.9"/>
<text transform="translate(688.70,202.80) scale(1,1.08)" font-size="10" text-anchor="middle" fill="#444" >10</text>
<line x1="728.80" x2="728.80" y1="189.8" y2="192.10000000000002" stroke="#333" stroke-width="0.9"/>
<text transform="translate(728.80,202.80) scale(1,1.08)" font-size="10" text-anchor="middle" fill="#444" >15</text>
<line x1="768.90" x2="768.90" y1="189.8" y2="192.10000000000002" stroke="#333" stroke-width="0.9"/>
<text transform="translate(768.90,202.80) scale(1,1.08)" font-size="10" text-anchor="middle" fill="#444" >20</text>
<text transform="translate(727.90,221.30) scale(1,1.08)" font-size="10.4" text-anchor="middle" fill="#1a1a1a" >Combined Diversity</text>
<text transform="translate(593.2,118.4) rotate(-90) scale(1,1.08)" font-size="12.15" text-anchor="middle" fill="#1a1a1a">Morphospace Volume</text>
<text transform="translate(585.00,17.50) scale(1,1.08)" font-size="15.5" text-anchor="start" fill="#1a1a1a" >D</text>
<text transform="translate(603.30,14.20) scale(1,1.08)" font-size="12.0" text-anchor="start" fill="#1a1a1a" textLength="214.1" lengthAdjust="spacingAndGlyphs">GAM: Morphospace Volume vs Diversity</text>
</svg></body></html>
